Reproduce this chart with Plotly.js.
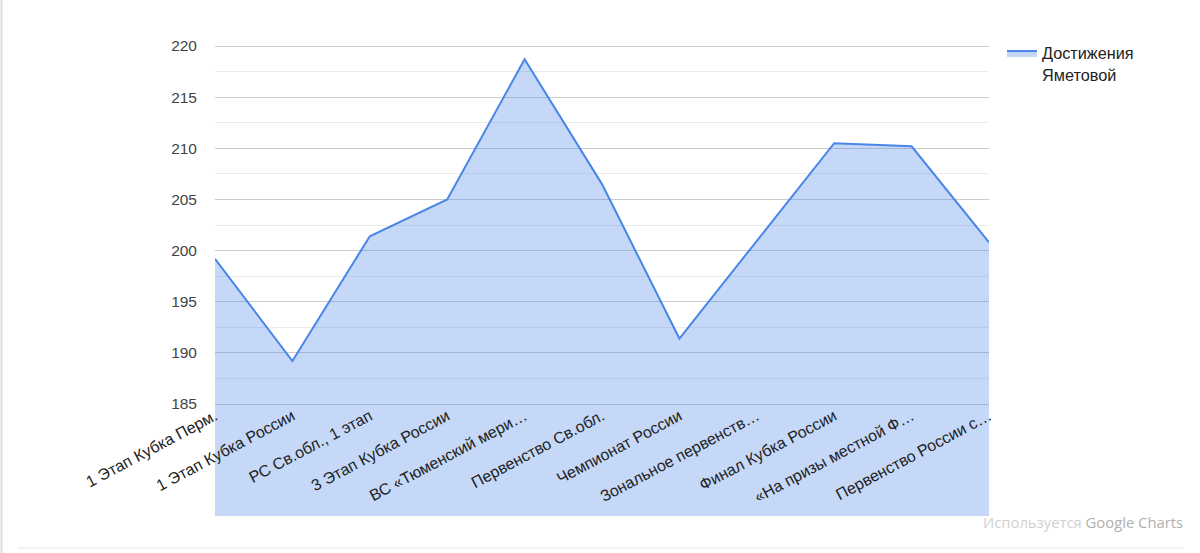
<!DOCTYPE html>
<html>
<head>
<meta charset="utf-8">
<script src="https://cdn.plot.ly/plotly-3.0.1.min.js"></script>
<style>
  html, body { margin: 0; padding: 0; background: #fff; }
  #chart { width: 1200px; height: 553px; }
</style>
</head>
<body>
<div id="chart"></div>
<script>
const categories = [
  "1 Этап Кубка Перм.",
  "1 Этап Кубка России",
  "РС Св.обл., 1 этап",
  "3 Этап Кубка России",
  "ВС «Тюменский мери…",
  "Первенство Св.обл.",
  "Чемпионат России",
  "Зональное первенств…",
  "Финал Кубка России",
  "«На призы местной Ф…",
  "Первенство России с…"
];
const values = [199.2, 189.2, 201.4, 205.0, 218.7, 206.5, 191.4, 200.9, 210.5, 210.2, 200.8];
const seriesName = "Достижения<br>Яметовой";
const yMajorTicks = [185, 190, 195, 200, 205, 210, 215, 220];
const yMinorTicks = [187.5, 192.5, 197.5, 202.5, 207.5, 212.5, 217.5];
const creditText = "<span style='color:#cfcfcf'>Используется</span> Google Charts";

const idx = categories.map((c, i) => i);

const trace = {
  x: categories,
  y: values,
  type: "scatter",
  mode: "lines",
  name: seriesName,
  fill: "tozeroy",
  fillcolor: "rgba(74,134,232,0.32)",
  line: { color: "#4a86e8", width: 2 },
  hoverinfo: "x+y"
};

const W = 1200, H = 553, L = 215, R = 211, T = 45, B = 37;
const pw = W - L - R, ph = H - T - B;
const px = v => (v - L) / pw;
const py = v => (H - B - v) / ph;

const layout = {
  width: W,
  height: H,
  margin: { l: L, r: R, t: T, b: B, pad: 0 },
  paper_bgcolor: "#ffffff",
  plot_bgcolor: "#ffffff",
  font: { family: "Liberation Sans, Arial, sans-serif", size: 15.5, color: "#222" },
  xaxis: {
    type: "category",
    range: [0, categories.length - 1],
    showgrid: false,
    zeroline: false,
    showline: false,
    showticklabels: false,
    ticks: "",
    fixedrange: true
  },
  xaxis2: {
    type: "linear",
    overlaying: "x",
    anchor: "free",
    position: py(403),
    range: [0, categories.length - 1],
    tickmode: "array",
    tickvals: idx,
    ticktext: categories,
    tickangle: -28,
    showgrid: false,
    zeroline: false,
    showline: false,
    ticks: "",
    tickfont: { family: "Liberation Sans, Arial, sans-serif", size: 16, color: "#222" },
    fixedrange: true
  },
  yaxis: {
    range: [174.05, 220.1],
    tickmode: "array",
    tickvals: yMajorTicks,
    showgrid: true,
    gridcolor: "#cccccc",
    gridwidth: 1,
    zeroline: false,
    showline: false,
    ticks: "",
    ticklabelstandoff: 17,
    tickfont: { family: "Liberation Sans, Arial, sans-serif", size: 15.5, color: "#444" },
    minor: {
      tickmode: "array",
      tickvals: yMinorTicks,
      showgrid: true,
      gridcolor: "#ebebeb",
      gridwidth: 1,
      ticks: ""
    },
    fixedrange: true
  },
  showlegend: true,
  legend: {
    x: px(1002),
    y: py(36),
    xanchor: "left",
    yanchor: "top",
    valign: "top",
    bgcolor: "rgba(0,0,0,0)",
    font: { family: "Liberation Sans, Arial, sans-serif", size: 16.25, color: "#222" }
  },
  annotations: [
    {
      xref: "paper", yref: "paper",
      x: px(1185), y: py(522),
      xanchor: "right", yanchor: "middle",
      text: creditText,
      showarrow: false,
      font: { family: "Open Sans, sans-serif", size: 14.8, color: "#b0b0b0" }
    }
  ],
  shapes: [
    {
      type: "line", xref: "paper", yref: "paper",
      x0: px(1.5), x1: px(1.5), y0: py(553), y1: py(0),
      line: { color: "#dcdcdc", width: 2 }
    },
    {
      type: "line", xref: "paper", yref: "paper",
      x0: px(18), x1: px(1184), y0: py(548), y1: py(548),
      line: { color: "#eeeeee", width: 1.5 }
    }
  ]
};

const trace2 = {
  x: [0], y: [null], xaxis: "x2", yaxis: "y", showlegend: false, hoverinfo: "skip",
  type: "scatter", mode: "lines"
};

Plotly.newPlot("chart", [trace, trace2], layout, { displayModeBar: false, staticPlot: true });
</script>
</body>
</html>
